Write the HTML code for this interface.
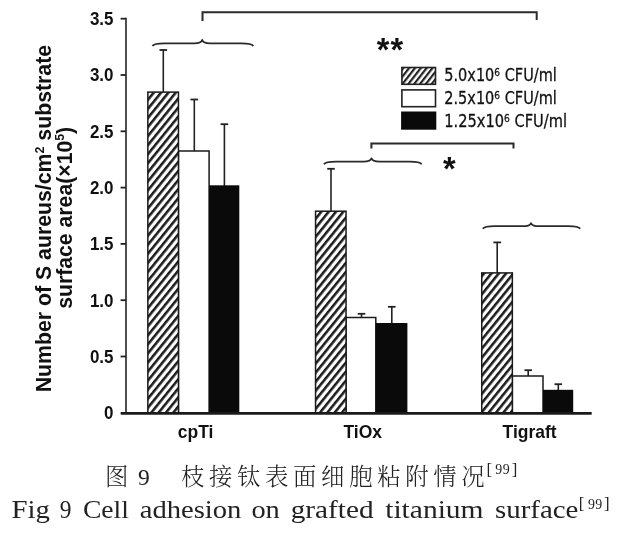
<!DOCTYPE html>
<html lang="zh"><head><meta charset="utf-8"><title>Fig 9</title>
<style>
html,body{margin:0;padding:0;background:#fff;}
body{width:618px;height:534px;overflow:hidden;position:relative;}
svg{position:absolute;left:0;top:0;display:block;filter:blur(0.3px);}
.ab{font-family:"Liberation Sans",sans-serif;font-weight:bold;fill:#111;}
.lg{font-family:"DejaVu Sans","Liberation Sans",sans-serif;fill:#111;stroke:#111;stroke-width:0.3px;}
.cn{font-family:"Liberation Serif","Noto Serif CJK SC",serif;fill:#222;}
.en{font-family:"Liberation Serif","Noto Serif CJK SC",serif;fill:#222;}
</style></head><body>
<svg width="618" height="534" viewBox="0 0 618 534">
<defs>
<pattern id="h" width="5.7" height="5.7" patternUnits="userSpaceOnUse" patternTransform="translate(148,88.6) rotate(-51)">
<rect width="5.7" height="5.7" fill="#fff"/><rect y="0" width="5.7" height="2.55" fill="#1c1c1c"/>
</pattern>
<pattern id="h2" width="4.6" height="4.6" patternUnits="userSpaceOnUse" patternTransform="translate(403.5,66) rotate(-52)">
<rect width="4.6" height="4.6" fill="#fff"/><rect y="0" width="4.6" height="2.2" fill="#222"/>
</pattern>
</defs>
<rect width="618" height="534" fill="#fff"/>

<g stroke="#222" fill="none">
<line x1="126.0" y1="17.7" x2="126.0" y2="412.8" stroke-width="1.6"/>
<line x1="120.8" y1="413.3" x2="591.5" y2="413.3" stroke-width="2.2"/>
<line x1="120.6" y1="356.5" x2="126.0" y2="356.5" stroke-width="1.8"/>
<line x1="120.6" y1="300.2" x2="126.0" y2="300.2" stroke-width="1.8"/>
<line x1="120.6" y1="243.9" x2="126.0" y2="243.9" stroke-width="1.8"/>
<line x1="120.6" y1="187.6" x2="126.0" y2="187.6" stroke-width="1.8"/>
<line x1="120.6" y1="131.3" x2="126.0" y2="131.3" stroke-width="1.8"/>
<line x1="120.6" y1="75.0" x2="126.0" y2="75.0" stroke-width="1.8"/>
<line x1="120.6" y1="18.7" x2="126.0" y2="18.7" stroke-width="1.8"/>
</g>
<text class="ab" transform="translate(113.5,419.2) scale(0.885,1)" font-size="19.2" text-anchor="end">0</text>
<text class="ab" transform="translate(113.5,362.9) scale(0.885,1)" font-size="19.2" text-anchor="end">0.5</text>
<text class="ab" transform="translate(113.5,306.6) scale(0.885,1)" font-size="19.2" text-anchor="end">1.0</text>
<text class="ab" transform="translate(113.5,250.3) scale(0.885,1)" font-size="19.2" text-anchor="end">1.5</text>
<text class="ab" transform="translate(113.5,194.0) scale(0.885,1)" font-size="19.2" text-anchor="end">2.0</text>
<text class="ab" transform="translate(113.5,137.7) scale(0.885,1)" font-size="19.2" text-anchor="end">2.5</text>
<text class="ab" transform="translate(113.5,81.4) scale(0.885,1)" font-size="19.2" text-anchor="end">3.0</text>
<text class="ab" transform="translate(113.5,25.1) scale(0.885,1)" font-size="19.2" text-anchor="end">3.5</text>
<g stroke="#222" fill="none"><line x1="163.3" y1="50.0" x2="163.3" y2="93.1" stroke-width="1.6"/><line x1="159.5" y1="50.0" x2="167.1" y2="50.0" stroke-width="1.8"/></g>
<g stroke="#222" fill="none"><line x1="194.3" y1="99.5" x2="194.3" y2="152.0" stroke-width="1.6"/><line x1="190.5" y1="99.5" x2="198.1" y2="99.5" stroke-width="1.8"/></g>
<g stroke="#222" fill="none"><line x1="224.4" y1="124.2" x2="224.4" y2="187.0" stroke-width="1.6"/><line x1="220.6" y1="124.2" x2="228.2" y2="124.2" stroke-width="1.8"/></g>
<rect x="178.45" y="151.0" width="30.65" height="261.8" fill="#fff" stroke="#1a1a1a" stroke-width="1.5"/>
<rect x="147.85" y="92.1" width="30.60" height="320.7" fill="url(#h)" stroke="#1a1a1a" stroke-width="1.5"/>
<rect x="209.1" y="185.3" width="30.20" height="227.5" fill="#0a0a0a"/>
<g stroke="#222" fill="none"><line x1="331.0" y1="168.8" x2="331.0" y2="212.2" stroke-width="1.6"/><line x1="327.2" y1="168.8" x2="334.8" y2="168.8" stroke-width="1.8"/></g>
<g stroke="#222" fill="none"><line x1="361.5" y1="313.8" x2="361.5" y2="318.5" stroke-width="1.6"/><line x1="357.7" y1="313.8" x2="365.3" y2="313.8" stroke-width="1.8"/></g>
<g stroke="#222" fill="none"><line x1="391.8" y1="306.8" x2="391.8" y2="324.7" stroke-width="1.6"/><line x1="388.0" y1="306.8" x2="395.6" y2="306.8" stroke-width="1.8"/></g>
<rect x="346.05" y="317.5" width="29.75" height="95.3" fill="#fff" stroke="#1a1a1a" stroke-width="1.5"/>
<rect x="315.55" y="211.2" width="30.50" height="201.6" fill="url(#h)" stroke="#1a1a1a" stroke-width="1.5"/>
<rect x="375.8" y="323.0" width="31.60" height="89.8" fill="#0a0a0a"/>
<g stroke="#222" fill="none"><line x1="497.2" y1="242.4" x2="497.2" y2="273.9" stroke-width="1.6"/><line x1="493.4" y1="242.4" x2="501.1" y2="242.4" stroke-width="1.8"/></g>
<g stroke="#222" fill="none"><line x1="528.2" y1="370.2" x2="528.2" y2="377.0" stroke-width="1.6"/><line x1="524.5" y1="370.2" x2="532.0" y2="370.2" stroke-width="1.8"/></g>
<g stroke="#222" fill="none"><line x1="558.3" y1="384.2" x2="558.3" y2="391.5" stroke-width="1.6"/><line x1="554.5" y1="384.2" x2="562.1" y2="384.2" stroke-width="1.8"/></g>
<rect x="512.35" y="376.0" width="30.65" height="36.8" fill="#fff" stroke="#1a1a1a" stroke-width="1.5"/>
<rect x="481.75" y="272.9" width="30.60" height="139.9" fill="url(#h)" stroke="#1a1a1a" stroke-width="1.5"/>
<rect x="543.0" y="389.8" width="30.20" height="23.0" fill="#0a0a0a"/>
<line x1="120.8" y1="413.3" x2="591.5" y2="413.3" stroke="#1a1a1a" stroke-width="2.5"/>
<text class="ab" transform="translate(195.6,438.3) scale(0.95,1)" font-size="18.4" text-anchor="middle">cpTi</text>
<text class="ab" transform="translate(362.7,438.3) scale(0.95,1)" font-size="18.4" text-anchor="middle">TiOx</text>
<text class="ab" transform="translate(529.6,438.3) scale(0.95,1)" font-size="18.4" text-anchor="middle">Tigraft</text>
<text class="ab" transform="translate(51.2,218.6) rotate(-90)" font-size="21.5" text-anchor="middle" textLength="347.5" lengthAdjust="spacingAndGlyphs">Number of S aureus/cm<tspan font-size="12.5" dy="-7.5">2</tspan><tspan dy="7.5"> substrate</tspan></text>
<text class="ab" transform="translate(71.5,217.8) rotate(-90)" font-size="21.5" text-anchor="middle" textLength="182" lengthAdjust="spacingAndGlyphs">surface area(×10<tspan font-size="12.5" dy="-7.5">5</tspan><tspan dy="7.5">)</tspan></text>
<path d="M152.4,45.9 C153.9,43.599999999999994 157.4,43.3 164.4,43.3 L194.2,43.3 C199.2,43.3 201.39999999999998,42.699999999999996 202.2,39.9 C203.0,42.699999999999996 205.2,43.3 210.2,43.3 L241.4,43.3 C248.4,43.3 251.9,43.599999999999994 253.4,45.9" stroke="#2a2a2a" stroke-width="1.8" fill="none" stroke-linejoin="round"/>
<path d="M323.9,164.29999999999998 C325.4,162.0 328.9,161.7 335.9,161.7 L363.5,161.7 C368.5,161.7 370.7,161.1 371.5,158.3 C372.3,161.1 374.5,161.7 379.5,161.7 L409.7,161.7 C416.7,161.7 420.2,162.0 421.7,164.29999999999998" stroke="#2a2a2a" stroke-width="1.8" fill="none" stroke-linejoin="round"/>
<path d="M482.8,228.79999999999998 C484.3,226.5 487.8,226.2 494.8,226.2 L523,226.2 C528,226.2 530.2,225.6 531,223.2 C531.8,225.6 534,226.2 539,226.2 L568.2,226.2 C575.2,226.2 578.7,226.5 580.2,228.79999999999998" stroke="#2a2a2a" stroke-width="1.8" fill="none" stroke-linejoin="round"/>
<path d="M202.5,21 V12.2 H536.7 V20" stroke="#2a2a2a" stroke-width="2" fill="none"/>
<path d="M371.4,148.5 V143.6 H513.5 V148.5" stroke="#2a2a2a" stroke-width="2" fill="none"/>
<text class="ab" x="383.0" y="60.7" font-size="32.5" text-anchor="middle">*</text>
<text class="ab" x="396.9" y="60.7" font-size="32.5" text-anchor="middle">*</text>
<text class="ab" x="449.4" y="179.6" font-size="32.5" text-anchor="middle">*</text>
<rect x="401.9" y="67.5" width="33.6" height="16.8" fill="url(#h2)" stroke="#222" stroke-width="1.6"/>
<rect x="401.9" y="89.9" width="33.6" height="16.8" fill="#fff" stroke="#222" stroke-width="1.6"/>
<rect x="401.1" y="111.5" width="35.2" height="18.2" fill="#0a0a0a"/>
<text class="lg" x="444.3" y="81.0" font-size="18" textLength="112.5" lengthAdjust="spacingAndGlyphs">5.0x10<tspan font-size="11.3" dy="-4.8">6</tspan><tspan dy="4.8"> CFU/ml</tspan></text>
<text class="lg" x="444.3" y="104.0" font-size="18" textLength="112.5" lengthAdjust="spacingAndGlyphs">2.5x10<tspan font-size="11.3" dy="-4.8">6</tspan><tspan dy="4.8"> CFU/ml</tspan></text>
<text class="lg" x="444.3" y="127.2" font-size="18" textLength="122.7" lengthAdjust="spacingAndGlyphs">1.25x10<tspan font-size="11.3" dy="-4.8">6</tspan><tspan dy="4.8"> CFU/ml</tspan></text>
<text class="cn" y="484.9" font-size="23.4"><tspan x="105.0" font-weight="300">图</tspan> <tspan x="138.0" y="485.1" font-size="23.5">9</tspan> <tspan x="180.9" y="484.9" font-weight="300" letter-spacing="4.65">枝接钛表面细胞粘附情况</tspan><tspan x="486.6" y="474.6" font-size="16.8">[</tspan><tspan x="495.2" y="473.9" font-size="13.9" letter-spacing="0.5">99</tspan><tspan x="511.7" y="474.6" font-size="16.8">]</tspan></text>
<text class="en" y="518.4" font-size="24.6"><tspan x="11.4" textLength="38.4" lengthAdjust="spacingAndGlyphs">Fig</tspan> <tspan x="59.7" textLength="11.7" lengthAdjust="spacingAndGlyphs">9</tspan> <tspan x="82.9" textLength="46.0" lengthAdjust="spacingAndGlyphs">Cell</tspan> <tspan x="139.7" textLength="101.7" lengthAdjust="spacingAndGlyphs">adhesion</tspan> <tspan x="251.4" textLength="28.4" lengthAdjust="spacingAndGlyphs">on</tspan> <tspan x="290.7" textLength="82.9" lengthAdjust="spacingAndGlyphs">grafted</tspan> <tspan x="385.2" textLength="98.4" lengthAdjust="spacingAndGlyphs">titanium</tspan> <tspan x="495.1" textLength="83.3" lengthAdjust="spacingAndGlyphs">surface</tspan><tspan x="578.8" y="508.6" font-size="16.8">[</tspan><tspan x="587.9" y="508.6" font-size="13.9" letter-spacing="0.5">99</tspan><tspan x="603.9" y="508.6" font-size="16.8">]</tspan></text>
</svg></body></html>
